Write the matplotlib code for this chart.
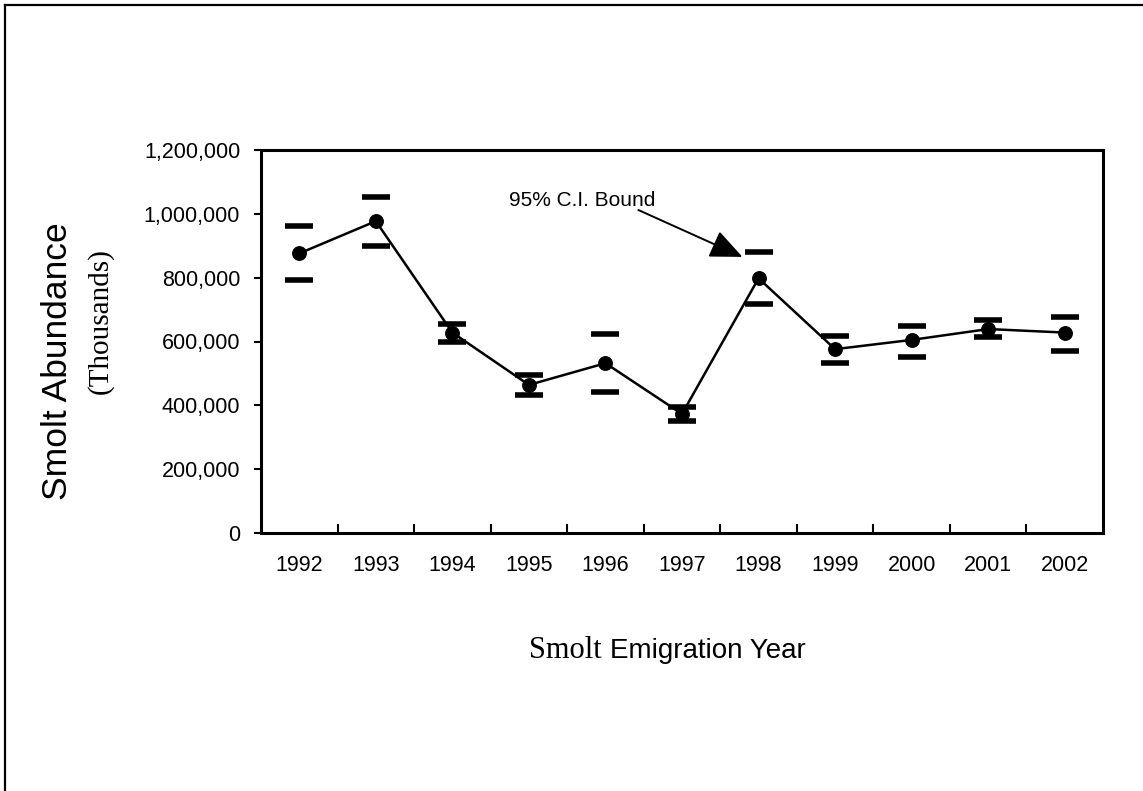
# smolt abundance by emigration year, with 95% C.I. bounds

import matplotlib
matplotlib.use("Agg")
import matplotlib.pyplot as plt
from matplotlib.lines import Line2D
from matplotlib.ticker import FuncFormatter, FixedLocator
import numpy as np

years = ["1992", "1993", "1994", "1995", "1996", "1997",
         "1998", "1999", "2000", "2001", "2002"]
abundance = [876000, 977000, 628000, 464000, 532000, 373000,
             798000, 576000, 605000, 639000, 628000]
ci_upper = [961000, 1053000, 656000, 494000, 623000, 396000,
            880000, 618000, 650000, 667000, 676000]
ci_lower = [793000, 899000, 598000, 432000, 441000, 351000,
            718000, 534000, 551000, 615000, 571000]

W, H = 1143, 791
plt.rcParams['font.family'] = ['Liberation Sans', 'DejaVu Sans']
fig = plt.figure(figsize=(W / 100, H / 100), dpi=100)
fig.patch.set_facecolor('white')

ax = fig.add_axes([261 / W, 1 - 533 / H, (1103 - 261) / W, (533 - 150) / H])
x = np.arange(len(years))

ax.plot(x, abundance, color='black', lw=1.8, marker='o', ms=9.7, zorder=3)
ax.plot(x, ci_upper, ls='none', marker='_', ms=19.5, mew=4, color='black')
ax.plot(x, ci_lower, ls='none', marker='_', ms=19.5, mew=4, color='black')

ax.set_xlim(-0.5, len(years) - 0.5)
ax.set_ylim(0, 1200000)
ax.set_yticks(np.arange(0, 1200001, 200000))
ax.yaxis.set_major_formatter(FuncFormatter(lambda v, p: f"{int(v):,}"))
ax.tick_params(axis='y', direction='out', length=5, width=1.5, pad=10,
               labelsize=15.5)

ax.set_xticks(x)
ax.set_xticklabels(years)
ax.xaxis.set_minor_locator(FixedLocator(np.arange(0.5, len(years) - 1, 1)))
ax.tick_params(axis='x', which='major', length=0, pad=16, labelsize=15.5)
ax.tick_params(axis='x', which='minor', direction='in', length=6.5, width=1.5)

for s in ax.spines.values():
    s.set_linewidth(2.2)

# annotation for the confidence bound
ax.text(2.74, 1024500, "95% C.I. Bound", fontsize=15, va='baseline', ha='left')
ax.annotate('', xy=(x[6] - 0.21, ci_upper[6] - 15000), xytext=(4.43, 1012000),
            arrowprops=dict(arrowstyle='-|>,head_length=0.8,head_width=0.35',
                            mutation_scale=25, lw=1.4, color='black',
                            shrinkA=0, shrinkB=0))

# axis titles (mixed fonts)
fig.text(602 / W, 1 - 658 / H, "Smolt", family=['Liberation Serif'],
         fontsize=22, ha='right', va='baseline')
fig.text(610 / W, 1 - 658 / H, "Emigration Year", fontsize=20,
         ha='left', va='baseline')
fig.text(57.5 / W, 1 - 361 / H, "Smolt Abundance", fontsize=25.5,
         rotation=90, ha='center', va='center')
fig.text(100 / W, 1 - 321.5 / H, "(Thousands)", family=['Liberation Serif'],
         fontsize=21, rotation=90, ha='center', va='center')

# outer border (top and left)
fig.add_artist(Line2D([5 / W, 5 / W], [0, 1 - 5 / H], transform=fig.transFigure,
                      color='black', lw=1.6))
fig.add_artist(Line2D([5 / W, 1], [1 - 5 / H, 1 - 5 / H], transform=fig.transFigure,
                      color='black', lw=1.6))

fig.savefig("out.png", dpi=100)
